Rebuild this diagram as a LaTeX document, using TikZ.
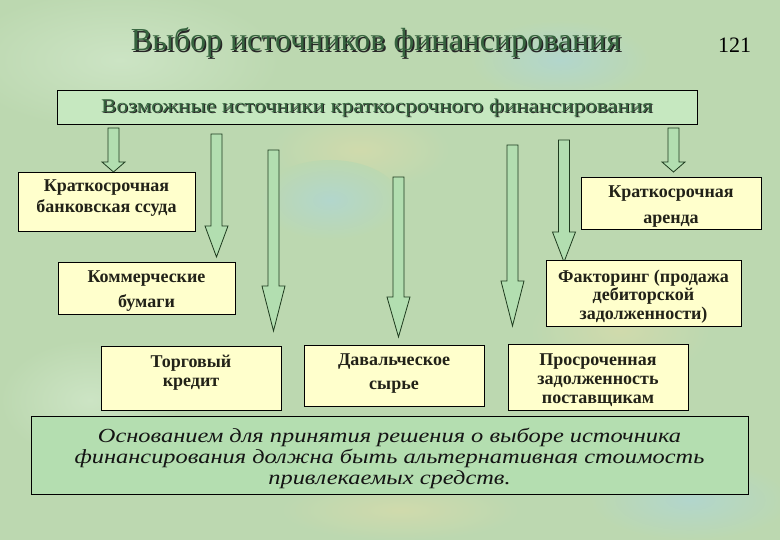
\documentclass[tikz,border=0pt]{standalone}
\usepackage{fontspec}
\setmainfont{Liberation Serif}
\newfontfamily\ttlfont{Liberation Serif}
\newfontfamily\topfont[FakeStretch=1.18]{Liberation Serif}
\newfontfamily\itfont[FakeStretch=1.22]{Liberation Serif}
\definecolor{bgcol}{RGB}{188,216,176}
\definecolor{bgyel}{RGB}{208,218,172}
\definecolor{bgblue}{RGB}{178,214,204}
\definecolor{bglight}{RGB}{204,228,196}
\definecolor{arrfill}{RGB}{178,222,176}
\definecolor{arrdraw}{RGB}{30,58,30}
\definecolor{topfill}{RGB}{198,232,192}
\definecolor{botfill}{RGB}{180,222,176}
\definecolor{yelfill}{RGB}{255,255,204}
\definecolor{ttlgreen}{RGB}{54,100,62}
\definecolor{txtdark}{RGB}{34,34,24}
\newcommand{\blockarr}[5]{% name, x, ytop, yhead, ytip
  \coordinate (#1s) at (#2,#3);
  \coordinate (#1e) at (#2,#5);
  \draw[barr] ({#2-5.5},#3) -- ({#2+5.5},#3) -- ({#2+5.5},#4) -- ({#2+11.5},#4)
    -- (#1e) -- ({#2-11.5},#4) -- ({#2-5.5},#4) -- cycle;}
\begin{document}
\begin{tikzpicture}[x=1pt,y=-1pt,
  ybox/.style={draw=black, line width=0.9pt, fill=yelfill, anchor=north west, inner sep=0pt},
  gbox/.style={draw=black, line width=0.9pt, anchor=north west, inner sep=0pt},
  barr/.style={draw=arrdraw, line width=0.8pt, fill=arrfill, line join=miter},
  lbl/.style={align=center, anchor=base, inner sep=0pt, text=txtdark},
  shd/.style={align=center, anchor=base, inner sep=0pt, text=black!85},
  ttl/.style={align=center, anchor=base, inner sep=0pt, text=ttlgreen}]
\useasboundingbox (0,0) rectangle (780,540);
\fill[bgcol] (0,0) rectangle (780,540);
% soft background blotches
\shade[inner color=bglight, outer color=bgcol] (120,60) ellipse (160 and 70);
\shade[inner color=bgyel, outer color=bgcol] (360,150) ellipse (90 and 40);
\shade[inner color=bgblue, outer color=bgcol] (330,200) ellipse (70 and 40);
\shade[inner color=bgblue, outer color=bgcol] (560,60) ellipse (90 and 40);
\shade[inner color=bgyel, outer color=bgcol] (620,330) ellipse (90 and 50);
\shade[inner color=bglight, outer color=bgcol] (90,400) ellipse (90 and 60);
\shade[inner color=bgblue, outer color=bgcol] (690,500) ellipse (100 and 40);
\shade[inner color=bgyel, outer color=bgcol] (400,510) ellipse (120 and 30);

% title
\node[shd, font=\ttlfont\fontsize{32}{36}\selectfont] (titles) at (377.5,52.5) {Выбор источников финансирования};
\node[ttl, font=\ttlfont\fontsize{32}{36}\selectfont] (title) at (376,51) {Выбор источников финансирования};
\node[lbl, text=black, font=\ttlfont\fontsize{22}{26}\selectfont] (num) at (734.5,53) {121};

% top box
\node[gbox, fill=topfill, minimum width=640pt, minimum height=34pt] (top) at (57,90) {};
\node[shd, font=\topfont\fontsize{19.5}{22}\selectfont] (tops) at (378,114) {Возможные источники краткосрочного финансирования};
\node[ttl, font=\topfont\fontsize{19.5}{22}\selectfont] (toptxt) at (377,113) {Возможные источники краткосрочного финансирования};

% arrows
\blockarr{a1}{113.5}{128}{162}{172}
\blockarr{a2}{216.5}{134}{226}{257}
\blockarr{a3}{273.5}{150}{286}{331}
\blockarr{a4}{398.5}{177}{297}{337}
\blockarr{a5}{512.5}{145}{281}{326}
\blockarr{a6}{564}{140}{232}{262}
\blockarr{a7}{673.5}{128}{162}{172}

% source boxes (label y = baseline of last line)
\node[ybox, minimum width=177pt, minimum height=59pt] (b1) at (18,172) {};
\node[lbl, font=\bfseries\fontsize{18}{21}\selectfont] (b1t) at (106.5,213) {Краткосрочная\\банковская ссуда};

\node[ybox, minimum width=177pt, minimum height=52pt] (b2) at (58,262) {};
\node[lbl, font=\bfseries\fontsize{18}{25}\selectfont] (b2t) at (146.5,308) {Коммерческие\\бумаги};

\node[ybox, minimum width=180pt, minimum height=52pt] (b3) at (581,177) {};
\node[lbl, font=\bfseries\fontsize{18}{26}\selectfont] (b3t) at (671,224) {Краткосрочная\\аренда};

\node[ybox, minimum width=195pt, minimum height=66pt] (b4) at (546,260) {};
\node[lbl, font=\bfseries\fontsize{18}{19}\selectfont] (b4t) at (643.5,320) {Факторинг (продажа\\дебиторской\\задолженности)};

\node[ybox, minimum width=180pt, minimum height=64pt] (b5) at (101,346) {};
\node[lbl, font=\bfseries\fontsize{18}{20}\selectfont] (b5t) at (191,387) {Торговый\\кредит};

\node[ybox, minimum width=180pt, minimum height=61pt] (b6) at (304,345) {};
\node[lbl, font=\bfseries\fontsize{18}{24}\selectfont] (b6t) at (394,389) {Давальческое\\сырье};

\node[ybox, minimum width=180pt, minimum height=66pt] (b7) at (508,344) {};
\node[lbl, font=\bfseries\fontsize{18}{19}\selectfont] (b7t) at (598,403) {Просроченная\\задолженность\\поставщикам};

% bottom box
\node[gbox, fill=botfill, minimum width=717pt, minimum height=78pt] (bot) at (31,416) {};
\node[lbl, text=black!92, font=\itfont\itshape\fontsize{20}{21}\selectfont] (bott) at (389.5,484) {Основанием для принятия решения о выборе источника\\финансирования должна быть альтернативная стоимость\\привлекаемых средств.};
\end{tikzpicture}
\end{document}
